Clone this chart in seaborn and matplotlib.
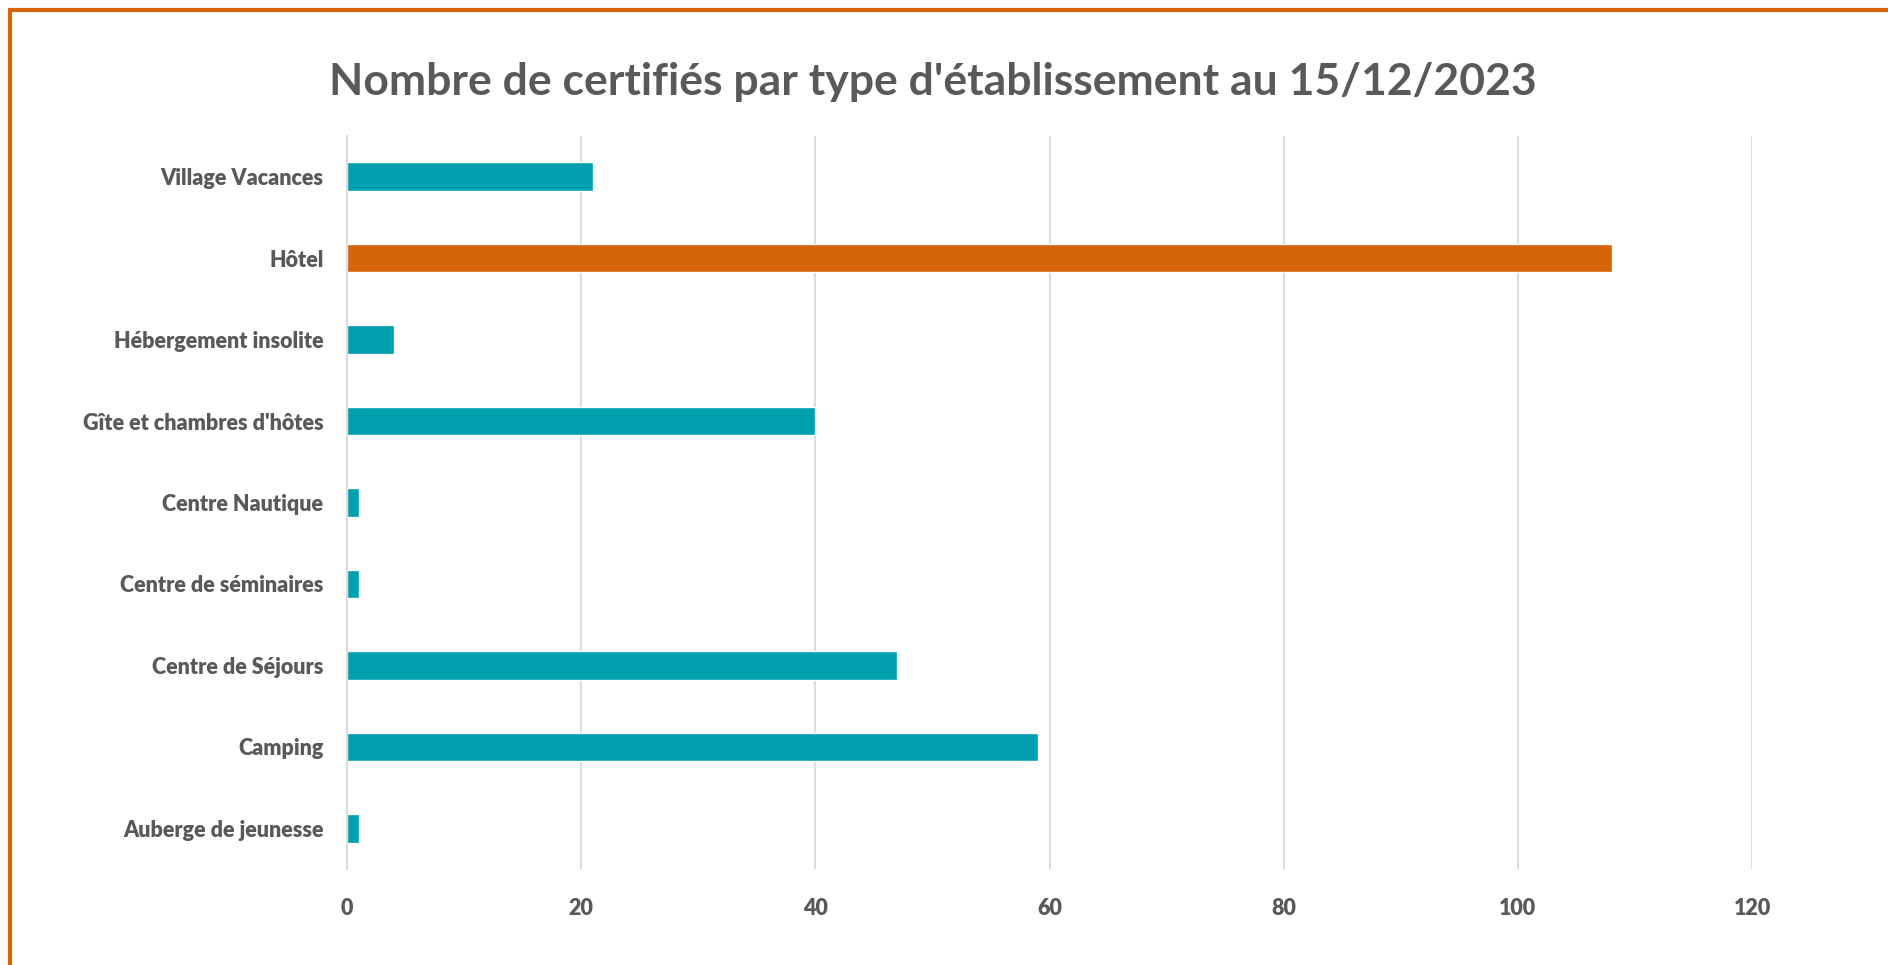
import matplotlib
matplotlib.use("Agg")
import matplotlib.pyplot as plt
import seaborn as sns
import pandas as pd
from matplotlib.patches import Rectangle

# data (top to bottom)
types = ["Village Vacances", "Hôtel", "Hébergement insolite",
         "Gîte et chambres d'hôtes", "Centre Nautique",
         "Centre de séminaires", "Centre de Séjours", "Camping",
         "Auberge de jeunesse"]
counts = [21, 108, 4, 40, 1, 1, 47, 59, 1]
highlight = ["autre", "hotel", "autre", "autre", "autre",
             "autre", "autre", "autre", "autre"]

teal = "#009FAD"
orange = "#D46508"
grey_txt = "#595959"

df = pd.DataFrame({"type": types, "n": counts, "grp": highlight})

sns.set_style("white")
plt.rcParams["font.family"] = ["Lato", "DejaVu Sans"]
plt.rcParams["font.weight"] = "bold"

fig = plt.figure(figsize=(18.88, 9.65), dpi=100)
ax = fig.add_axes([0.1838, 0.0995, 0.7442, 0.7596])

sns.barplot(data=df, y="type", x="n", hue="grp", order=types,
            palette={"autre": teal, "hotel": orange}, width=0.35,
            dodge=False, legend=False, saturation=1, ax=ax)

ax.set_xlim(0, 120)
ax.set_xticks(range(0, 121, 20))
ax.grid(axis="x", color="#D9D9D9", linewidth=1.3)
ax.set_axisbelow(True)
for s in ["top", "right", "bottom"]:
    ax.spines[s].set_visible(False)
ax.spines["left"].set_color("#D9D9D9")
ax.spines["left"].set_linewidth(1.3)
ax.set_xlabel("")
ax.set_ylabel("")
ax.tick_params(axis="both", length=0, colors=grey_txt, labelsize=15.5)
ax.tick_params(axis="y", pad=17)
ax.tick_params(axis="x", pad=21)
for lab in ax.get_xticklabels() + ax.get_yticklabels():
    lab.set_fontweight("heavy")

fig.text(0.494, 0.915, "Nombre de certifiés par type d'établissement au 15/12/2023",
         ha="center", va="center", fontsize=32, fontweight="bold", color=grey_txt)

# orange frame (only top and left edges visible in the crop)
fig.patches.append(Rectangle((10 / 1888, -0.05), 1.2, 1 - 10 / 965 + 0.05,
                             transform=fig.transFigure, fill=False,
                             edgecolor=orange, linewidth=3))

fig.savefig("out.png", dpi=100)
